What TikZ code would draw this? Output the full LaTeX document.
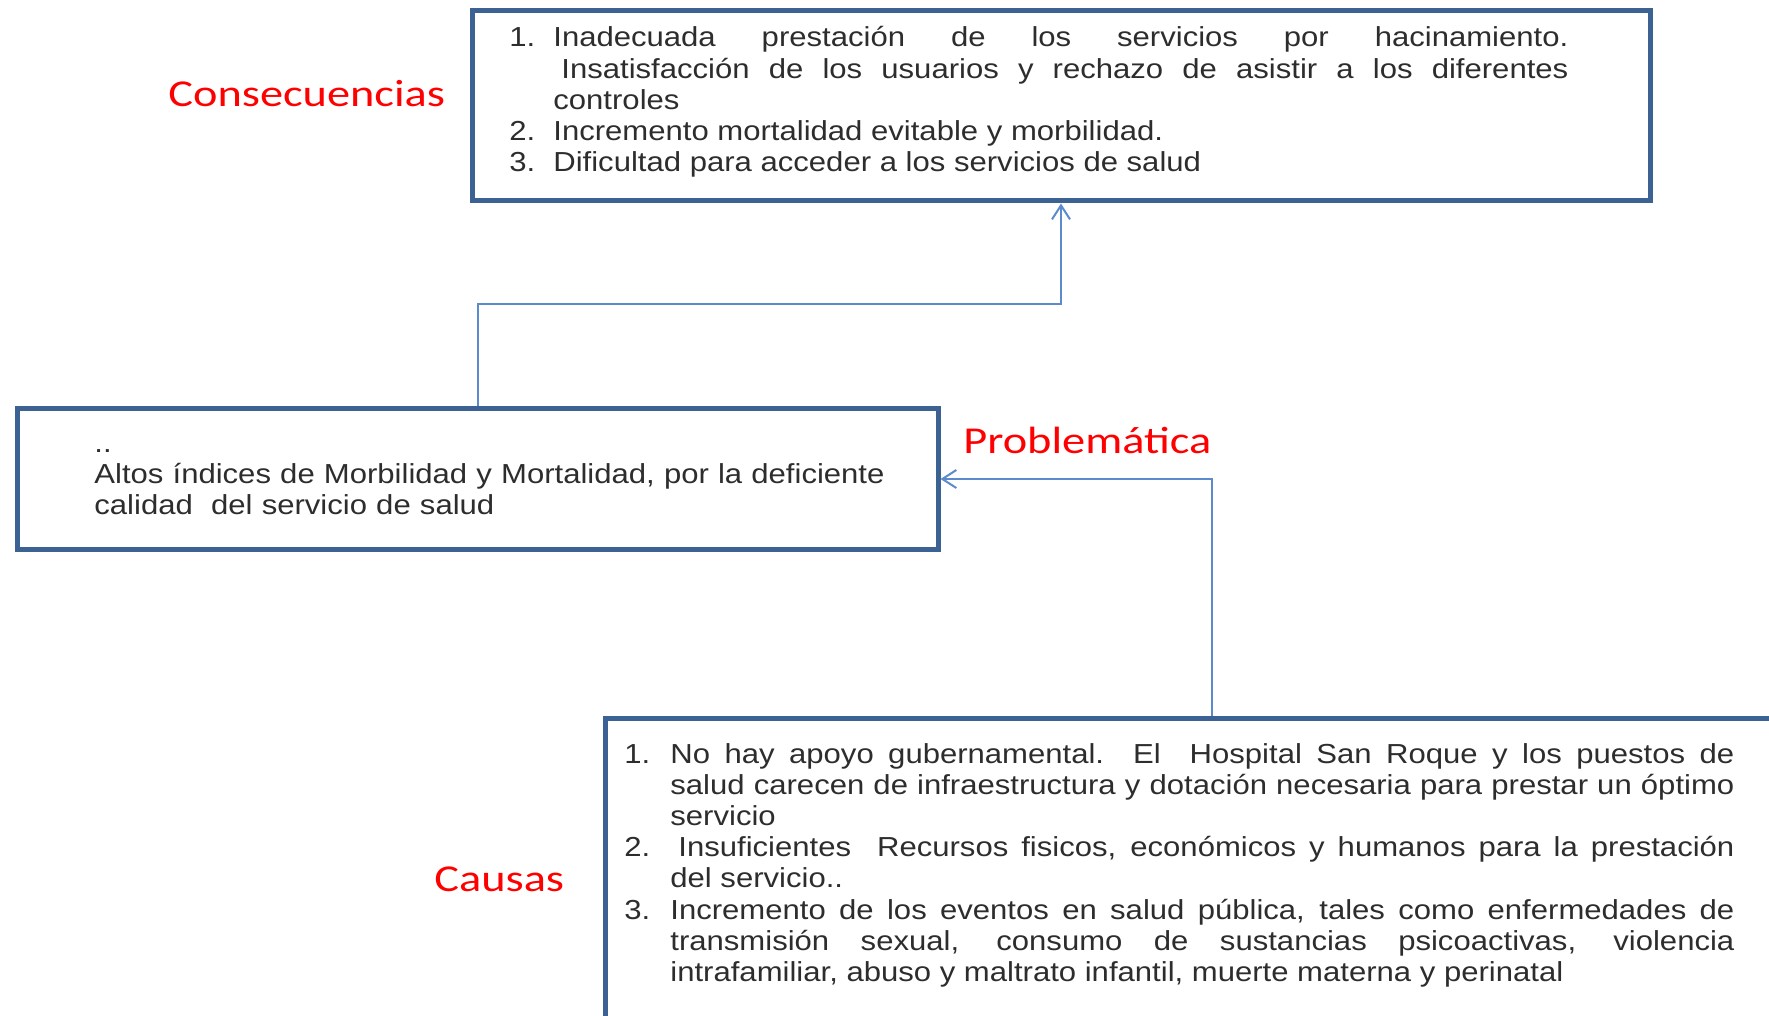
\documentclass[tikz,border=0pt]{standalone}
\usepackage{fontspec}
\usepackage{tikz}
\usetikzlibrary{arrows.meta}
\newfontfamily\boxfont[FakeStretch=1.13]{Liberation Sans}
\newfontfamily\tagfont[FakeStretch=1.22]{Carlito}
\definecolor{framecol}{RGB}{60,98,148}
\definecolor{linkcol}{RGB}{91,139,205}
\definecolor{txtcol}{RGB}{45,45,45}
\newlength\numw
\newcommand{\numitem}[2]{\hangindent=\numw\hangafter=1\noindent\makebox[\numw][l]{#1}#2\par}

\begin{document}
\begin{tikzpicture}[x=0.5pt,y=-0.5pt,>={Straight Barb[length=7pt,width=9pt]}]
	\tikzstyle{frame}=[draw=framecol,line width=2.5pt,rectangle,inner sep=0pt]
	\tikzstyle{list}=[text=txtcol,inner sep=0pt,align=justify,font=\boxfont\fontsize{13.75pt}{15.6pt}\selectfont]
	\tikzstyle{tag}=[text=red,inner sep=0pt,font=\tagfont\fontsize{19pt}{22pt}\selectfont]
	\tikzstyle{link}=[draw=linkcol,line width=1pt,->]
	
	\useasboundingbox (0,0) rectangle (1769,1016);
	\clip (0,0) rectangle (1769,1016);
	
	\node[frame,minimum width=589pt,minimum height=95pt] (Cons) at (1061,106) {};
	\node[frame,minimum width=460.5pt,minimum height=70pt] (Prob) at (477.5,479) {};
	\node[frame,minimum width=607pt,minimum height=171pt] (Caus) at (1212,889) {};
	
	\node[tag,anchor=base west] (ConsTag) at (168,107) {Consecuencias};
	\node[tag,anchor=base west] (ProbTag) at (963,454) {Problemática};
	\node[tag,anchor=base west] (CausTag) at (434,891) {Causas};
	
	\node[list,anchor=base west,text width=529.5pt] (ConsList) at (509,47) {\setlength\numw{22pt}%
		\numitem{1.}{Inadecuada prestación de los servicios por hacinamiento.\linebreak
			\hspace*{4pt}Insatisfacción de los usuarios y rechazo de asistir a los diferentes\linebreak controles}%
		\numitem{2.}{Incremento\ mortalidad evitable y morbilidad.}%
		\numitem{3.}{Dificultad para acceder a los servicios de salud}};
	\node[list,anchor=base west,text width=430pt,align=left] (ProbText) at (94,452) {..\\
		Altos índices de Morbilidad y Mortalidad, por la deficiente\\
		calidad\ \ del servicio de salud};
	\node[list,anchor=base west,text width=555pt] (CausList) at (624,763) {\setlength\numw{23pt}%
		\numitem{1.}{No hay apoyo gubernamental. El\ \ Hospital San Roque y los puestos de\linebreak
			salud carecen de infraestructura y dotación necesaria para prestar un óptimo\linebreak servicio}%
		\numitem{2.}{\hspace*{4pt}Insuficientes\ \ Recursos fisicos, económicos y humanos para la prestación\linebreak del servicio..}%
		\numitem{3.}{Incremento de los eventos en salud pública, tales como enfermedades de\linebreak
			transmisión sexual, consumo de sustancias psicoactivas, violencia\linebreak
			intrafamiliar, abuso y maltrato infantil, muerte materna y perinatal}};
	
	\path (Prob.north) edge[link,to path={-- ++(0,-102) -| (\tikztotarget)}] (Cons.south)
	(Caus.north) edge[link,to path={|- (\tikztotarget)}] (Prob.east);
\end{tikzpicture}
\end{document}
